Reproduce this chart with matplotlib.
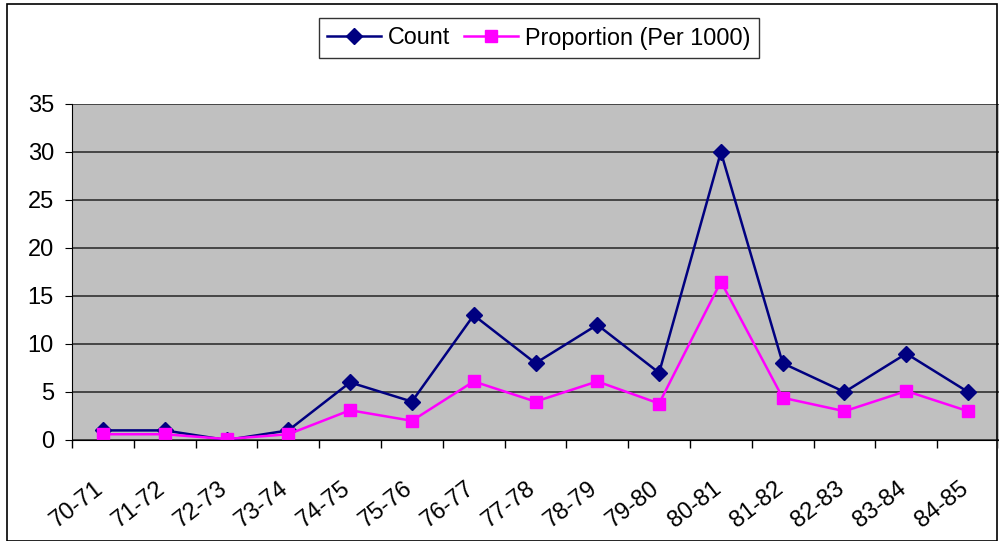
import numpy as np
import matplotlib.pyplot as plt
from matplotlib.patches import Rectangle
from matplotlib.transforms import ScaledTranslation

plt.rcParams['font.family'] = ['Liberation Sans', 'DejaVu Sans']

seasons = ['70-71', '71-72', '72-73', '73-74', '74-75', '75-76', '76-77', '77-78',
           '78-79', '79-80', '80-81', '81-82', '82-83', '83-84', '84-85']
count = [1, 1, 0, 1, 6, 4, 13, 8, 12, 7, 30, 8, 5, 9, 5]
proportion = [0.6, 0.6, 0.1, 0.6, 3.1, 2.0, 6.1, 4.0, 6.1, 3.8, 16.5, 4.4, 3.0, 5.1, 3.0]

fig = plt.figure(figsize=(9.99, 5.41), dpi=100)
fig.patches.append(Rectangle((7/999, 0.0), 1 - 9/999, 1 - 4/541, transform=fig.transFigure,
                             fill=False, edgecolor='black', linewidth=1.2))
ax = fig.add_axes([72/999, 1-440/541, 927/999, 336/541])
ax.set_facecolor('#C0C0C0')

x = np.arange(len(seasons))
ax.plot(x, count, color='#000080', marker='D', markersize=8, linewidth=1.8, label='Count')
ax.plot(x, proportion, color='#FF00FF', marker='s', markersize=8.5, linewidth=1.8,
        label='Proportion (Per 1000)')

ax.set_xlim(-0.5, len(seasons) - 0.5)
ax.set_ylim(0, 35)
ax.set_yticks(range(0, 36, 5))
ax.yaxis.grid(True, color='#303030', linewidth=1.2)
ax.set_axisbelow(True)

ax.set_xticks(np.arange(-0.5, len(seasons), 1))
ax.set_xticklabels([])
ax.set_xticks(x, minor=True)
ax.set_xticklabels(seasons, minor=True, rotation=38, ha='right', rotation_mode='anchor',
                   fontsize=17)
ax.tick_params(axis='x', which='minor', length=0, pad=27)
ax.tick_params(axis='x', which='major', length=6, width=1, color='black')
ax.tick_params(axis='y', length=5, labelsize=17, pad=8)
shift = ScaledTranslation(-0.09, 0, fig.dpi_scale_trans)
for lab in ax.get_xticklabels(minor=True):
    lab.set_transform(lab.get_transform() + shift)

for s in ['top', 'right']:
    ax.spines[s].set_visible(False)
ax.spines['left'].set_color('black')
ax.spines['bottom'].set_color('black')

leg = fig.legend(loc='center', bbox_to_anchor=(539/999, 1-38/541), ncol=2, fontsize=16.8,
                 frameon=True, fancybox=False, edgecolor='black', handlelength=2.3,
                 columnspacing=0.6, handletextpad=0.3, borderpad=0.35)
leg.get_frame().set_linewidth(1)

fig.savefig('out.png', dpi=100)
